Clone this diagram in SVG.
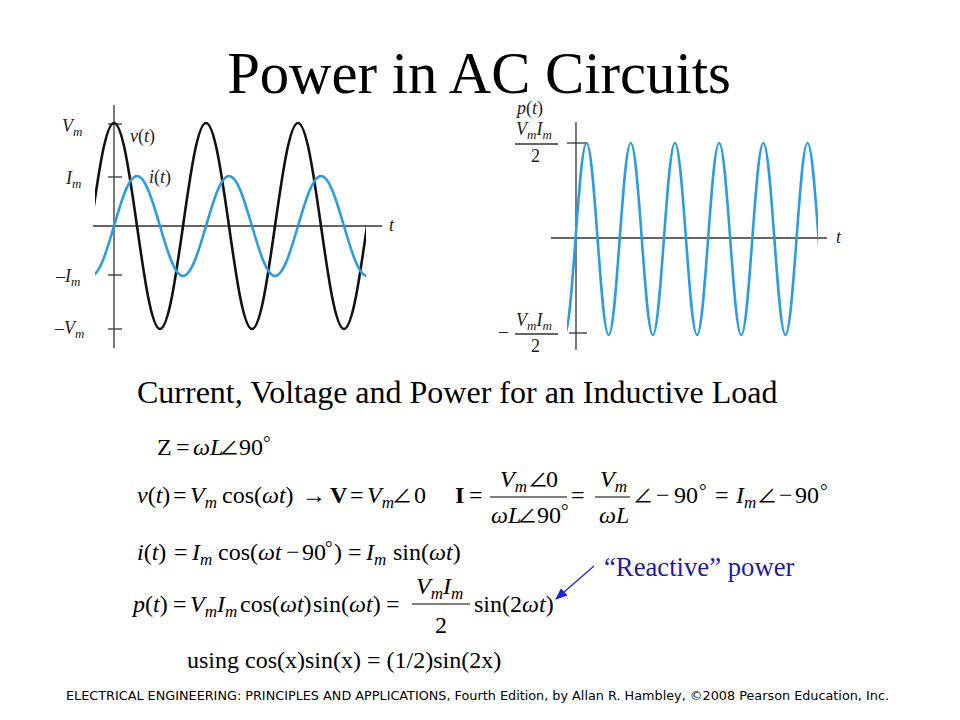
<svg xmlns="http://www.w3.org/2000/svg" width="960" height="720" viewBox="0 0 960 720">
<defs>
<style>
.serif{font-family:"Liberation Serif","Times New Roman",serif;fill:#000}
.lbl{font-family:"Liberation Serif","Times New Roman",serif;font-style:italic;font-size:18px;fill:#222}
.lsub{font-size:13px}
.up{font-style:normal}
.ax{stroke:#333;stroke-width:1.3;fill:none}
.blk{stroke:#111;stroke-width:2.6;fill:none}
.blu{stroke:#2a9de0;stroke-width:2.6;fill:none}
.eq{font-family:"Liberation Serif","Times New Roman",serif;font-size:24px;fill:#000}
.i{font-style:italic}
.s{font-size:17px;font-style:italic}
.b{font-weight:bold}
.dg{font-size:19px}
.ang{font-family:"Noto Sans CJK JP","Noto Sans CJK SC","DejaVu Sans",sans-serif;font-size:20px;font-style:normal}
.bar{stroke:#000;stroke-width:1.2}
</style>
<clipPath id="clipL"><rect x="95" y="90" width="271" height="260"/></clipPath>
<clipPath id="clipR"><rect x="567" y="100" width="251" height="260"/></clipPath>
<marker id="ah" markerWidth="12" markerHeight="10" refX="11" refY="5" orient="auto" markerUnits="userSpaceOnUse">
<path d="M0,0 L12,5 L0,10 z" fill="#2424d6"/>
</marker>
</defs>

<rect x="0" y="0" width="960" height="720" fill="#fff"/>

<g id="title">
<text class="serif" x="479" y="93" font-size="58.7" text-anchor="middle">Power in AC Circuits</text>
</g>

<g id="plot-vi">
<line class="ax" x1="114" y1="105" x2="114" y2="348"/>
<line class="ax" x1="93" y1="226" x2="382" y2="226"/>
<line class="ax" x1="108" y1="124" x2="122" y2="124"/>
<line class="ax" x1="108" y1="177" x2="122" y2="177"/>
<line class="ax" x1="108" y1="275" x2="122" y2="275"/>
<line class="ax" x1="108" y1="329" x2="122" y2="329"/>
<g clip-path="url(#clipL)">
<path class="blk" d="M68,329 c8.33,0 15.5,-50.23 23,-103 s14.67,-103 23,-103 s15.5,50.23 23,103 s14.67,103 23,103 s15.5,-50.23 23,-103 s14.67,-103 23,-103 s15.5,50.23 23,103 s14.67,103 23,103 s15.5,-50.23 23,-103 s14.67,-103 23,-103 s15.5,50.23 23,103 s14.67,103 23,103 s15.5,-50.23 23,-103 s14.67,-103 23,-103 s15.5,50.23 23,103 s14.67,103 23,103"/>
<path class="blu" d="M91,276 c8.33,0 15.5,-24.39 23,-50 s14.67,-50 23,-50 s15.5,24.39 23,50 s14.67,50 23,50 s15.5,-24.39 23,-50 s14.67,-50 23,-50 s15.5,24.39 23,50 s14.67,50 23,50 s15.5,-24.39 23,-50 s14.67,-50 23,-50 s15.5,24.39 23,50 s14.67,50 23,50 s15.5,-24.39 23,-50 s14.67,-50 23,-50 s15.5,24.39 23,50 s14.67,50 23,50"/>
</g>
<text class="lbl" x="62" y="132">V<tspan class="lsub" y="136">m</tspan></text>
<text class="lbl" x="130" y="142">v<tspan class="up">(</tspan>t<tspan class="up">)</tspan></text>
<text class="lbl" x="66" y="184">I<tspan class="lsub" y="188">m</tspan></text>
<text class="lbl" x="149" y="183">i<tspan class="up">(</tspan>t<tspan class="up">)</tspan></text>
<text class="lbl" x="56" y="282"><tspan class="up">–</tspan>I<tspan class="lsub" y="286">m</tspan></text>
<text class="lbl" x="55" y="334"><tspan class="up">–</tspan>V<tspan class="lsub" y="338">m</tspan></text>
<text class="lbl" x="389" y="231">t</text>
</g>

<g id="plot-p">
<line class="ax" x1="576" y1="122" x2="576" y2="350"/>
<line class="ax" x1="551" y1="238" x2="827" y2="238"/>
<line class="ax" x1="567" y1="143" x2="587" y2="143"/>
<line class="ax" x1="569" y1="333" x2="587" y2="333"/>
<g clip-path="url(#clipR)">
<path class="blu" d="M564.45,335 c4,0 7.45,-46.82 11.05,-96 s7.05,-96 11.05,-96 s7.45,46.82 11.05,96 s7.05,96 11.05,96 s7.45,-46.82 11.05,-96 s7.05,-96 11.05,-96 s7.45,46.82 11.05,96 s7.05,96 11.05,96 s7.45,-46.82 11.05,-96 s7.05,-96 11.05,-96 s7.45,46.82 11.05,96 s7.05,96 11.05,96 s7.45,-46.82 11.05,-96 s7.05,-96 11.05,-96 s7.45,46.82 11.05,96 s7.05,96 11.05,96 s7.45,-46.82 11.05,-96 s7.05,-96 11.05,-96 s7.45,46.82 11.05,96 s7.05,96 11.05,96 s7.45,-46.82 11.05,-96 s7.05,-96 11.05,-96 s7.45,46.82 11.05,96 s7.05,96 11.05,96"/>
</g>
<text class="lbl" x="517" y="114">p<tspan class="up">(</tspan>t<tspan class="up">)</tspan></text>
<text class="lbl" x="516" y="135">V<tspan class="lsub" y="139">m</tspan><tspan y="135">I</tspan><tspan class="lsub" y="139">m</tspan></text>
<line class="ax" x1="515" y1="144" x2="558" y2="144"/>
<text class="lbl up" x="531" y="162">2</text>
<text class="lbl up" x="499" y="337">–</text>
<text class="lbl" x="516" y="326">V<tspan class="lsub" y="330">m</tspan><tspan y="326">I</tspan><tspan class="lsub" y="330">m</tspan></text>
<line class="ax" x1="515" y1="334" x2="558" y2="334"/>
<text class="lbl up" x="531" y="352">2</text>
<text class="lbl" x="836" y="243">t</text>
</g>

<g id="subtitle">
<text class="serif" x="137" y="403" font-size="32">Current, Voltage and Power for an Inductive Load</text>
</g>

<g id="equations">
<text class="eq"><tspan x="157" y="455">Z</tspan><tspan x="176" y="455">=</tspan><tspan x="193" y="455" class="i">ωL</tspan><tspan x="219" y="455" class="ang">∠</tspan><tspan x="239" y="455">90</tspan><tspan x="263" y="449" class="dg">°</tspan></text>

<text class="eq"><tspan x="137" y="503" class="i">v</tspan><tspan>(</tspan><tspan class="i">t</tspan><tspan>)</tspan><tspan x="173" y="503">=</tspan><tspan x="190" y="503" class="i">V</tspan><tspan class="s" y="508">m</tspan><tspan x="222" y="503">cos(</tspan><tspan class="i">ωt</tspan><tspan>)</tspan><tspan x="302" y="503">→</tspan><tspan x="330" y="503" class="b">V</tspan><tspan x="350" y="503">=</tspan><tspan x="367" y="503" class="i">V</tspan><tspan class="s" y="508">m</tspan><tspan x="392" y="503" class="ang">∠</tspan><tspan x="414" y="503">0</tspan></text>

<text class="eq"><tspan x="455" y="503" class="b">I</tspan><tspan x="469" y="503">=</tspan><tspan x="500" y="487" class="i">V</tspan><tspan class="s" y="492">m</tspan><tspan x="528" y="487" class="ang">∠</tspan><tspan x="546" y="487">0</tspan><tspan x="491" y="523" class="i">ωL</tspan><tspan x="517" y="523" class="ang">∠</tspan><tspan x="537" y="523">90</tspan><tspan x="561" y="517" class="dg">°</tspan><tspan x="571" y="503">=</tspan><tspan x="600" y="487" class="i">V</tspan><tspan class="s" y="492">m</tspan><tspan x="599" y="523" class="i">ωL</tspan><tspan x="633" y="503" class="ang">∠</tspan><tspan x="656" y="503">−</tspan><tspan x="674" y="503">90</tspan><tspan x="699" y="497" class="dg">°</tspan><tspan x="715" y="503">=</tspan><tspan x="736" y="503" class="i">I</tspan><tspan class="s" y="508">m</tspan><tspan x="757" y="503" class="ang">∠</tspan><tspan x="779" y="503">−</tspan><tspan x="795" y="503">90</tspan><tspan x="820" y="497" class="dg">°</tspan></text>
<line class="bar" x1="490" y1="497" x2="567" y2="497"/>
<line class="bar" x1="595" y1="497" x2="630" y2="497"/>

<text class="eq"><tspan x="137" y="560" class="i">i</tspan><tspan>(</tspan><tspan class="i">t</tspan><tspan>)</tspan><tspan x="174" y="560">=</tspan><tspan x="192" y="560" class="i">I</tspan><tspan class="s" y="565">m</tspan><tspan x="218" y="560">cos(</tspan><tspan class="i">ωt</tspan><tspan x="286" y="560">−</tspan><tspan x="302" y="560">90</tspan><tspan x="325" y="554" class="dg">°</tspan><tspan x="334" y="560">)</tspan><tspan x="348" y="560">=</tspan><tspan x="366" y="560" class="i">I</tspan><tspan class="s" y="565">m</tspan><tspan x="393" y="560">sin(</tspan><tspan class="i">ωt</tspan><tspan>)</tspan></text>

<text class="eq"><tspan x="133" y="612" class="i">p</tspan><tspan>(</tspan><tspan class="i">t</tspan><tspan>)</tspan><tspan x="173" y="612">=</tspan><tspan x="190" y="612" class="i">V</tspan><tspan class="s" y="617">m</tspan><tspan class="i" y="612">I</tspan><tspan class="s" y="617">m</tspan><tspan x="240" y="612">cos(</tspan><tspan class="i">ωt</tspan><tspan>)</tspan><tspan x="313" y="612">sin(</tspan><tspan class="i">ωt</tspan><tspan>)</tspan><tspan x="386" y="612">=</tspan><tspan x="416" y="594" class="i">V</tspan><tspan class="s" y="599">m</tspan><tspan class="i" y="594">I</tspan><tspan class="s" y="599">m</tspan><tspan x="435" y="633">2</tspan><tspan x="474" y="612">sin(2</tspan><tspan class="i">ωt</tspan><tspan>)</tspan></text>
<line class="bar" x1="412" y1="604" x2="470" y2="604"/>

<text class="serif" x="187" y="668" font-size="24">using cos(x)sin(x) = (1/2)sin(2x)</text>
</g>

<g id="reactive-label">
<text class="serif" x="604" y="576" font-size="26.7" style="fill:#1c1ca0">“Reactive” power</text>
</g>

<g id="connectors">
<line x1="594" y1="566" x2="556" y2="599" stroke="#2424d6" stroke-width="1.3" marker-end="url(#ah)"/>
</g>

<g id="footer">
<text x="66" y="700" font-family="DejaVu Sans, sans-serif" font-size="11.5" fill="#000" textLength="823" lengthAdjust="spacingAndGlyphs">ELECTRICAL ENGINEERING: PRINCIPLES AND APPLICATIONS, Fourth Edition, by Allan R. Hambley, ©2008 Pearson Education, Inc.</text>
</g>
</svg>
